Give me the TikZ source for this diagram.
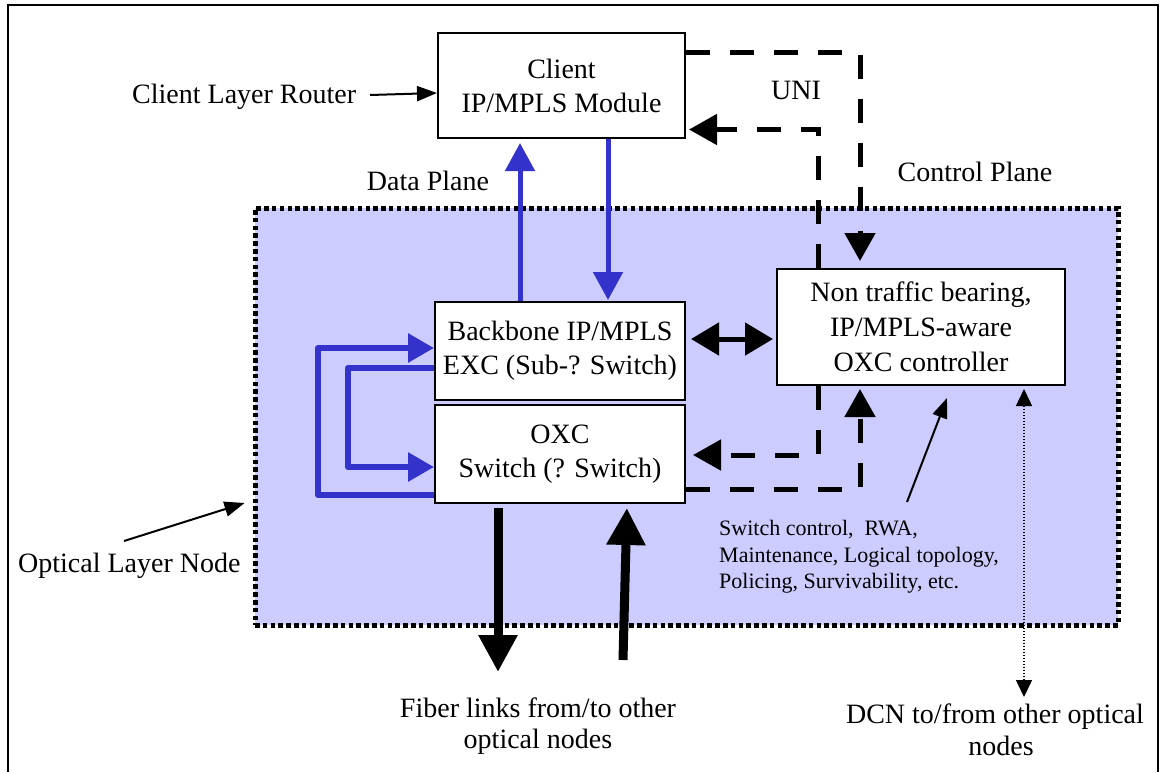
\documentclass[tikz,border=0pt]{standalone}
\usepackage{fontspec}
\setmainfont{Liberation Serif}
\usetikzlibrary{arrows.meta}
\definecolor{regionfill}{HTML}{CCCCFF}
\definecolor{datablue}{HTML}{3333CC}

\begin{document}
\begin{tikzpicture}[x=1pt,y=-1pt,
  bigfont/.style={font=\fontsize{28}{34}\selectfont},
  smallfont/.style={font=\fontsize{22}{26}\selectfont},
  box/.style={draw=black, line width=2pt, fill=white, align=center,
    inner sep=0pt, bigfont},
  lbl/.style={inner sep=0pt, bigfont},
  note/.style={inner sep=0pt, smallfont, anchor=base west},
  region/.style={draw=black, fill=regionfill, line width=5pt,
    dash pattern=on 4.5pt off 3.3pt, minimum width=863pt, minimum height=417pt,
    inner sep=0pt},
  dataarrow/.style={draw=datablue, line width=5pt, line join=round,
    -{Triangle[length=28pt,width=29pt]}, datablue},
  looparrow/.style={draw=datablue, line width=6pt, line join=round,
    -{Triangle[length=26pt,width=28pt]}, datablue},
  ctrlarrow/.style={draw=black, line width=5pt, dash pattern=on 24pt off 20pt,
    -{Triangle[length=28pt,width=30pt]}},
  fiberarrow/.style={draw=black, line width=9pt,
    -{Triangle[length=37pt,width=37pt]}},
  pointer/.style={draw=black, line width=2pt,
    -{Triangle[length=20pt,width=15pt]}},
  dcnarrow/.style={draw=black, line width=1.5pt, dash pattern=on 1.5pt off 1.5pt,
    {Triangle[length=17pt,width=16pt]}-{Triangle[length=17pt,width=16pt]}}
]
\useasboundingbox (0,0) rectangle (1165,772);

% outer frame (open at the bottom)
\draw[line width=2pt] (8,772) -- (8,5) -- (1158,5) -- (1158,772);

% optical layer node area
\node[region] (olnarea) at (686.5,416.5) {};

% boxes
\node[box, minimum width=247pt, minimum height=105pt] (client) at (561.5,85.5)
  {Client\\IP/MPLS Module};
\node[box, minimum width=250pt, minimum height=98pt] (bb) at (560,351)
  {Backbone IP/MPLS\\EXC (Sub-? Switch)};
\node[box, minimum width=250pt, minimum height=98pt] (oxc) at (560,454)
  {OXC\\Switch (? Switch)};
\node[box, minimum width=288pt, minimum height=116pt,
  font=\fontsize{28}{35}\selectfont] (ctrl) at (921,327)
  {Non traffic bearing,\\IP/MPLS-aware\\OXC controller};

% labels
\node[lbl, anchor=base west] (clr) at (132,103) {Client Layer Router};
\node[lbl, anchor=base] (uni) at (796,99) {UNI};
\node[lbl, anchor=base] (dataplane) at (428,190) {Data Plane};
\node[lbl, anchor=base] (ctrlplane) at (975,181) {Control Plane};
\node[lbl, anchor=base west] (oln) at (18,572) {Optical Layer Node};
\node[lbl, anchor=base] (fiberA) at (538,717) {Fiber links from/to other};
\node[lbl, anchor=base] (fiberB) at (538,748) {optical nodes};
\node[lbl, anchor=base] (dcnA) at (995,723) {DCN to/from other optical};
\node[lbl, anchor=base] (dcnB) at (1001,755) {nodes};
\node[note] (noteA) at (719,535) {Switch control,\ \ RWA,};
\node[note] (noteB) at (719,562) {Maintenance, Logical topology,};
\node[note] (noteC) at (719,588) {Policing, Survivability, etc.};

% free ends
\coordinate (fiberout) at (498,672);
\coordinate (fiberin) at (623,660);
\coordinate (dcnend) at (1024,697);
\coordinate (notetail) at (907,502);
\coordinate (clrtail) at (370,95);
\coordinate (olntail) at (124,541);

% data plane
\draw[dataarrow, shorten >=4pt] (bb.north -| 520,0) -- (client.south -| 520,0);
\draw[dataarrow, shorten >=1pt] (client.south -| 608,0) -- (bb.north -| 608,0);
\draw[looparrow] ([yshift=-41pt]oxc.west) -- ++(-116,0) |- ([yshift=3pt]bb.west);
\draw[looparrow] ([yshift=-17pt]bb.west) -- ++(-86,0) |- ([yshift=-13pt]oxc.west);

% control plane
\draw[ctrlarrow, shorten >=7pt] ([yshift=33pt]client.east) -| ([xshift=-61pt]ctrl.north);
\draw[ctrlarrow, shorten >=3pt] ([xshift=-103pt]ctrl.north) |- ([yshift=-44pt]client.east);
\draw[ctrlarrow, shorten >=7pt] ([xshift=-103pt]ctrl.south) |- ([yshift=-1pt]oxc.east);
\draw[ctrlarrow, shorten >=3pt] ([yshift=-35pt]oxc.east) -| ([xshift=-61pt]ctrl.south);
\draw[line width=5pt, {Triangle[length=28pt,width=32pt]}-{Triangle[length=28pt,width=32pt]},
  shorten <=5pt, shorten >=3pt] ([yshift=12pt]bb.east) -- ([yshift=-12pt]ctrl.west);

% fiber links
\draw[fiberarrow, shorten <=4pt] (oxc.south -| fiberout) -- (fiberout);
\draw[fiberarrow, shorten >=4pt] (fiberin) -- ([xshift=67pt]oxc.south);

% pointers
\draw[pointer] (clrtail) -- ([yshift=-7.5pt]client.west);
\draw[pointer] (olntail) -- ([xshift=-8pt,yshift=-86.5pt]olnarea.west);
\draw[pointer] (notetail) -- ([xshift=26pt,yshift=-12pt]ctrl.south);

% DCN
\draw[dcnarrow, shorten <=3pt] ([xshift=103pt]ctrl.south) -- (dcnend);
\end{tikzpicture}
\end{document}
